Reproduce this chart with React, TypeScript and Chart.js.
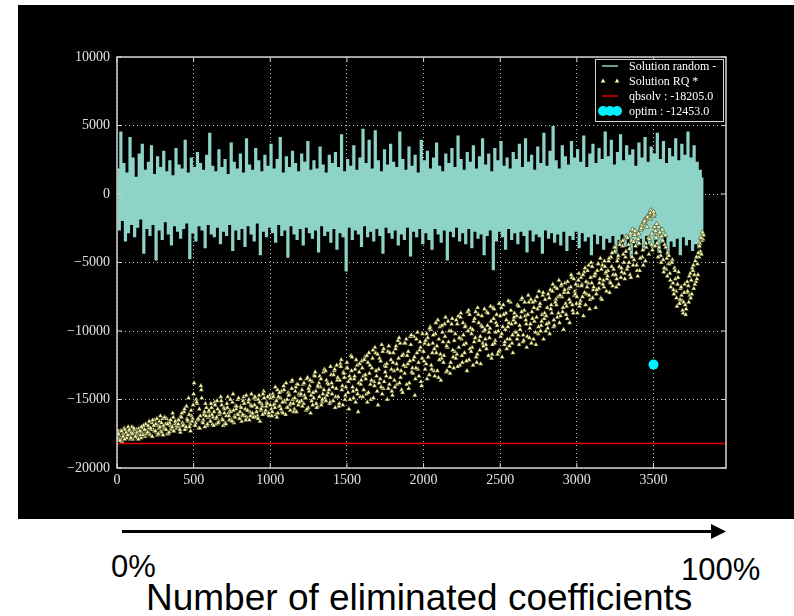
import React, { useEffect, useRef } from 'react';
import { Chart, registerables } from 'chart.js';

Chart.register(...registerables);

// x positions are the sample index; one kept sample every 10 iterations (RQ sets offset by 0, 3 and 7)
const SAMPLE_STEP = 10;

const RANDOM_VALUES = [
  1800, -2600, 4500, -1900, 2200, -3400, 1500, -2800, 4100, -2200, 2600, -3100, 1200, -2400, 2900, -1800, 3600, -4300, 1700, -2500,
  2300, -3000, 3500, -2200, 1400, -4800, 2700, -2600, 1900, -3300, 3100, -2000, 1600, -2900, 2400, -3700, 1300, -2300, 3300, -2700,
  2100, -3200, 1800, -2500, 3900, -2100, 1500, -4700, 2600, -2800, 1900, -3400, 3000, -2300, 2200, -2600, 1700, -3900, 2800, -2200,
  4400, -2900, 2000, -3100, 1600, -2400, 3200, -3600, 1900, -2700, 2500, -3000, 1400, -2200, 3700, -4100, 2300, -2600, 1800, -3300,
  2900, -2500, 1500, -3800, 4000, -2300, 2100, -2900, 1700, -3400, 3300, -2100, 2400, -4400, 1600, -2700, 2800, -3100, 2000, -2400,
  3600, -2800, 1800, -3500, 2500, -2200, 4100, -3000, 1500, -2600, 2700, -4600, 1900, -2300, 3100, -2900, 2200, -3300, 1600, -2500,
  2900, -3700, 2300, -2400, 3800, -2800, 1700, -3200, 2400, -2600, 1800, -4200, 3400, -2300, 2100, -3000, 1500, -2700, 2800, -3500,
  2200, -2500, 3000, -4000, 1900, -2800, 4300, -3100, 1600, -5600, 2500, -2400, 2000, -3300, 3500, -2600, 1700, -2900, 2600, -3800,
  4700, -2300, 2200, -3100, 3900, -2700, 1800, -3400, 4600, -2500, 2400, -3000, 1600, -4300, 3200, -2400, 2100, -2800, 3600, -3200,
  2300, -2600, 1900, -3700, 4500, -2900, 2500, -3300, 1700, -2400, 3400, -4500, 2000, -2700, 2800, -3100, 1500, -2500, 3900, -3600,
  2400, -2800, 3100, -3300, 1800, -4000, 2600, -2500, 3700, -2900, 2000, -3500, 1600, -2600, 2900, -4800, 2200, -2700, 3300, -3100,
  1900, -2400, 4200, -3400, 2500, -2800, 1700, -3600, 3000, -2500, 2300, -3900, 3500, -2700, 1800, -3200, 2700, -2900, 4000, -4400,
  2100, -3000, 2900, -2600, 1600, -5500, 3300, -3400, 2400, -2700, 3800, -3100, 2000, -4000, 2600, -2500, 1800, -3300, 3000, -2800,
  2500, -3600, 3600, -2700, 1900, -3000, 4000, -4200, 2300, -2600, 2800, -3400, 1700, -2900, 3400, -3100, 2200, -4300, 4400, -2600,
  2000, -3200, 3100, -2800, 4900, -3500, 2400, -2900, 1800, -3700, 3500, -2700, 2700, -4100, 2100, -3000, 3800, -3300, 2600, -2700,
  3200, -3900, 2300, -2800, 4200, -3400, 1900, -3100, 2900, -4400, 3600, -2900, 2200, -3600, 3300, -3000, 2500, -4000, 4500, -3200,
  2700, -3500, 3900, -3000, 2100, -4300, 3000, -3300, 4300, -2900, 2400, -3800, 3500, -3100, 2800, -4600, 3200, -3400, 2000, -3700,
  3700, -3200, 2600, -4100, 4100, -3000, 2300, -3600, 3400, -3900, 2900, -3300, 4400, -4200, 2500, -3500, 3800, -3100, 2200, -4500,
  3300, -3400, 2700, -3800, 4000, -3200, 2400, -4400, 3600, -3100, 2800, -3700, 4500, -3300, 2600, -4100, 3500, -3600, 2300, -3900,
  1700, -3000, 1200,
];

const RQ_VALUES_A = [
  -17800, -17500, -18000, -17300, -17700, -17900, -17400, -17600, -17200, -17800, -17500, -17100, -17700, -17400, -17900, -17300, -17000, -17600, -17200, -17500,
  -17400, -16600, -17100, -17700, -16900, -17300, -16400, -17500, -17000, -16700, -17600, -16300, -17200, -16800, -17400, -16500, -17000, -17300, -16600, -16900,
  -16800, -17200, -16300, -16900, -15700, -17000, -16500, -16100, -17300, -16600, -14600, -16900, -15200, -16400, -17100, -14300, -16700, -15900, -16200, -16800,
  -15800, -16600, -16100, -16900, -15400, -16300, -16700, -15900, -15100, -16500, -16000, -16800, -15600, -16200, -15000, -16600, -15800, -16300, -15500, -16100,
  -16400, -15600, -16100, -15300, -16500, -15800, -15000, -16200, -15500, -16300, -14800, -15900, -16400, -15200, -15700, -16100, -14900, -15800, -15300, -16000,
  -15400, -16200, -14800, -15600, -15100, -16000, -14500, -15700, -15200, -14300, -16100, -15000, -14700, -15800, -14200, -15300, -14900, -15900, -13900, -15200,
  -14600, -15500, -13800, -14900, -15700, -14200, -13600, -15100, -14500, -13300, -15300, -14000, -14800, -13500, -15000, -14300, -12900, -14700, -13900, -15200,
  -13800, -15100, -12800, -14200, -13400, -15300, -12600, -14000, -13100, -14700, -12300, -13700, -15000, -12900, -14400, -13300, -12100, -14600, -13000, -13900,
  -12700, -14300, -13200, -11800, -14500, -12500, -13600, -11400, -14000, -12900, -11700, -13800, -12200, -14600, -11300, -13000, -12400, -14200, -11600, -12800,
  -12300, -13600, -11100, -12800, -10500, -13400, -11800, -12500, -10900, -13900, -11500, -12200, -10300, -13100, -11900, -12700, -10100, -13300, -11200, -12000,
  -11500, -12800, -10200, -11900, -9800, -12500, -10900, -11300, -9400, -12900, -10600, -11700, -9600, -12300, -10400, -11100, -9300, -12600, -10000, -11400,
  -10700, -12000, -9500, -11200, -9000, -11800, -10300, -9700, -12200, -10000, -8800, -11500, -9900, -10800, -8600, -11700, -9400, -10400, -8900, -11100,
  -9900, -11300, -8700, -10500, -9300, -11000, -8400, -10100, -9600, -11500, -8900, -10200, -8100, -10800, -9200, -9700, -11100, -8500, -10300, -9000,
  -9400, -10600, -8200, -9900, -8600, -10300, -7900, -9500, -8800, -10500, -7700, -9100, -8300, -10100, -7500, -9700, -8000, -9300, -7200, -8700,
  -8900, -9800, -7600, -8400, -7100, -9200, -7900, -6900, -8700, -7400, -6600, -8300, -7000, -8800, -6400, -7700, -6800, -8100, -6200, -7300,
  -7500, -6300, -8000, -6700, -5900, -7200, -6400, -5600, -7400, -6100, -5300, -6800, -5800, -7000, -5100, -6200, -5500, -6600, -4900, -5700,
  -6000, -4700, -6500, -4300, -5500, -3900, -6200, -4500, -3700, -5400, -3400, -5800, -4200, -3200, -5000, -2900, -4600, -3500, -2700, -5200,
  -3300, -5600, -2500, -4100, -2000, -3600, -1700, -4400, -1400, -2900, -1300, -3800, -2200, -4600, -2800, -5000, -3400, -5400, -3900, -6000,
  -4500, -6300, -5000, -7000, -5600, -7600, -6100, -8000, -6800, -8500, -7200, -8800, -6400, -7900, -5800, -7300, -5200, -6600, -4600, -5900,
  -3800, -3200, -2800,
];

const RQ_VALUES_B = [
  -17600, -17900, -17300, -18100, -17500, -17200, -17800, -17000, -17600, -17400, -17900, -17200, -17500, -17800, -17100, -17600, -17400, -16900, -17700, -17300,
  -16900, -17500, -17200, -16500, -17300, -16800, -17600, -17100, -16200, -17400, -16900, -17200, -16400, -17500, -16700, -17100, -16000, -17300, -16800, -17000,
  -16500, -17400, -16000, -16800, -17200, -15500, -16600, -17000, -15800, -16400, -13800, -16700, -15300, -17100, -16200, -14900, -16500, -17000, -15600, -16300,
  -16200, -15300, -16800, -15900, -16400, -15100, -16600, -16000, -15400, -16900, -15700, -16200, -14800, -16500, -15900, -15200, -16700, -15500, -16100, -14900,
  -15900, -16600, -15100, -16200, -14700, -15800, -16500, -15400, -16000, -14900, -16300, -15600, -15000, -16600, -15300, -14600, -16000, -15500, -14800, -16200,
  -14900, -15900, -15400, -14100, -16300, -14800, -15500, -14400, -16000, -15100, -13800, -15600, -14600, -15300, -13600, -15900, -14400, -13900, -15400, -14700,
  -15100, -13900, -14700, -15800, -13400, -14400, -16000, -13700, -14900, -13000, -15600, -14100, -13300, -15400, -14600, -12800, -15100, -13800, -14300, -12600,
  -14600, -13200, -15600, -12500, -14800, -13600, -12100, -15400, -13400, -14100, -12700, -15700, -13500, -11900, -14900, -12800, -14300, -15900, -12400, -13600,
  -14800, -12100, -13500, -15200, -11600, -13900, -12700, -14900, -11200, -13300, -15400, -12000, -14100, -11500, -13700, -12600, -15000, -11100, -13400, -14400,
  -11600, -14100, -12400, -10700, -13800, -12900, -14500, -10900, -12600, -11800, -14200, -10400, -13000, -12100, -14700, -10600, -12800, -11400, -13700, -10200,
  -12200, -10700, -13500, -11000, -9700, -12800, -10300, -13300, -11600, -9200, -12100, -13600, -10100, -11800, -9000, -12900, -10800, -13100, -9500, -11900,
  -11500, -9200, -12600, -10500, -8700, -12300, -11000, -9600, -12900, -8500, -11300, -10200, -12500, -9100, -11900, -8300, -10700, -12400, -9700, -10000,
  -10600, -8600, -11800, -9800, -12000, -8300, -10900, -9400, -11700, -8000, -10400, -11900, -8800, -9900, -11300, -7800, -10600, -9500, -11600, -8700,
  -10100, -8100, -11000, -9000, -7600, -10700, -8900, -11200, -7400, -9800, -10900, -7900, -9300, -11000, -8400, -7100, -10000, -8800, -10600, -7700,
  -9500, -7300, -10200, -8100, -6600, -9600, -7700, -9000, -6300, -8900, -7500, -9900, -6500, -8200, -7200, -9400, -5900, -8500, -7400, -6600,
  -8700, -5800, -7800, -6600, -8900, -5400, -7300, -6500, -8400, -5000, -7600, -6000, -8300, -5600, -6900, -4700, -7700, -6300, -5300, -7100,
  -5600, -7200, -4600, -6700, -3900, -5900, -4900, -6600, -3500, -5700, -4400, -6200, -3100, -5300, -4000, -6100, -2600, -4800, -3800, -5600,
  -2900, -4700, -2300, -5200, -1900, -3900, -1600, -3300, -1200, -4100, -1500, -2700, -3600, -2400, -4200, -3100, -4800, -3700, -5500, -4300,
  -5100, -6800, -4800, -7300, -6200, -8200, -5700, -7700, -7400, -8700, -6600, -8400, -7100, -6000, -7600, -5400, -6900, -4900, -6200, -4300,
  -3600, -4400, -3300,
];

const RQ_VALUES_C = [
  -17300, -17700, -17900, -17500, -17100, -17800, -17600, -17300, -17900, -17000, -17400, -17700, -17200, -17600, -17400, -17800, -17100, -17500, -16800, -17400,
  -17100, -17600, -16700, -17200, -16500, -17400, -16900, -16600, -17300, -16400, -17100, -16800, -17500, -16600, -16900, -17200, -16300, -16800, -17100, -16500,
  -17000, -16200, -16700, -15900, -17100, -16400, -14900, -16800, -16200, -15400, -16900, -15000, -16500, -15700, -14000, -16600, -16100, -15300, -16900, -15900,
  -16600, -15600, -16300, -15200, -16800, -15700, -16100, -14800, -16400, -15600, -16700, -15300, -16000, -15800, -16500, -14600, -16200, -15700, -15000, -16400,
  -15500, -16200, -14800, -15700, -16300, -15200, -15900, -14600, -16100, -15400, -15000, -16200, -14700, -15800, -15500, -14400, -15900, -15200, -16100, -14700,
  -15700, -14600, -15300, -16100, -14300, -15500, -14900, -15900, -14000, -15200, -15600, -14500, -15400, -13700, -15000, -15700, -14100, -15100, -14600, -13500,
  -14300, -15300, -14900, -13500, -15600, -14000, -14700, -15400, -13200, -14400, -15500, -13800, -14100, -15200, -13000, -14900, -13600, -14500, -15300, -13200,
  -14100, -12900, -14800, -13600, -15500, -12400, -14300, -13000, -15000, -12700, -14500, -13300, -11800, -14100, -13500, -15200, -12500, -13800, -14800, -12200,
  -13300, -11900, -14600, -12300, -13100, -15000, -12000, -13700, -11600, -14400, -12800, -13500, -11000, -14200, -12500, -13300, -11500, -13900, -12100, -14700,
  -12900, -11300, -13900, -12000, -10900, -14300, -11700, -13100, -10600, -12400, -13800, -11000, -12700, -10400, -13500, -11600, -12300, -10800, -14000, -11500,
  -10900, -12400, -10500, -13200, -9900, -11600, -12900, -10200, -11100, -13400, -9700, -12000, -10800, -9500, -13000, -11200, -10000, -12300, -9100, -12700,
  -10200, -11700, -8900, -12500, -10600, -9400, -11600, -10900, -8600, -12100, -9800, -11200, -9300, -10500, -12300, -8800, -11400, -9600, -10900, -8400,
  -11000, -9600, -10100, -8200, -11700, -9100, -10700, -8800, -10000, -11400, -8300, -9700, -11000, -8700, -10600, -9400, -7900, -10900, -9200, -10100,
  -8900, -10300, -9600, -7700, -10800, -8500, -9200, -10400, -7900, -9500, -8600, -10600, -7800, -9000, -10200, -8200, -9600, -7400, -9100, -10000,
  -8300, -9400, -7000, -8700, -9700, -6800, -8100, -7500, -9400, -6700, -8600, -7200, -8000, -9100, -6900, -7900, -6100, -8700, -7100, -8000,
  -6700, -8200, -6100, -7500, -5700, -8100, -6800, -5200, -7700, -6500, -7000, -5900, -7300, -5100, -6500, -7600, -5200, -6800, -5800, -6200,
  -4900, -6400, -5300, -5900, -4200, -6800, -4700, -5300, -6100, -3800, -5000, -4600, -5500, -3700, -5900, -3400, -5200, -3000, -4300, -6000,
  -3600, -2600, -4600, -2100, -4900, -2400, -3200, -1800, -3700, -1600, -2400, -3200, -2900, -3900, -4500, -2600, -5700, -3000, -4700, -5100,
  -5800, -4900, -6500, -5400, -7100, -6600, -8000, -6900, -7800, -7900, -8100, -7200, -6700, -7400, -6300, -5600, -5900, -6400, -5100, -4600,
  -4200, -3400, -3000,
];

const QBSOLV_VALUE = -18205;
const OPTIM_X = 3500;
const OPTIM_VALUE = -12453;
const X_MIN = 0;
const X_MAX = 3973;
const Y_MIN = -20000;
const Y_MAX = 10000;
const X_TICKS = [0, 500, 1000, 1500, 2000, 2500, 3000, 3500];
const Y_TICKS = [-20000, -15000, -10000, -5000, 0, 5000, 10000];

const LEGEND_LABELS = ['Solution random -', 'Solution RQ *', 'qbsolv : -18205.0', 'optim : -12453.0'];

const C_RANDOM = '#8dd3c7';
const C_RQ = '#feffb3';
const C_QB = '#e00000';
const C_OPTIM = '#00f0ff';
const FRAME = '#d2d2d2';

const drawTri = (ctx: CanvasRenderingContext2D, x: number, y: number, r: number) => {
  ctx.beginPath();
  ctx.moveTo(x, y - r);
  ctx.lineTo(x + r * 0.9, y + r * 0.6);
  ctx.lineTo(x - r * 0.9, y + r * 0.6);
  ctx.closePath();
  ctx.fill();
};

const framePlugin = {
  id: 'frameAndLegend',
  afterDraw(chart: any) {
    const { ctx, chartArea: a, scales } = chart;
    ctx.save();
    ctx.strokeStyle = FRAME;
    ctx.lineWidth = 1.5;
    ctx.strokeRect(a.left, a.top, a.right - a.left, a.bottom - a.top);
    ctx.lineWidth = 1;
    const t = 5;
    ctx.beginPath();
    scales.x.ticks.forEach((tk: any) => {
      const px = scales.x.getPixelForValue(tk.value);
      ctx.moveTo(px, a.bottom);
      ctx.lineTo(px, a.bottom - t);
      ctx.moveTo(px, a.top);
      ctx.lineTo(px, a.top + t);
    });
    scales.y.ticks.forEach((tk: any) => {
      const py = scales.y.getPixelForValue(tk.value);
      ctx.moveTo(a.left, py);
      ctx.lineTo(a.left + t, py);
      ctx.moveTo(a.right, py);
      ctx.lineTo(a.right - t, py);
    });
    ctx.stroke();

    // legend
    const bw = 128;
    const bh = 62;
    const bx = a.right - 131;
    const by = a.top + 2;
    ctx.fillStyle = '#000';
    ctx.fillRect(bx, by, bw, bh);
    ctx.strokeStyle = FRAME;
    ctx.lineWidth = 1;
    ctx.strokeRect(bx + 0.5, by + 0.5, bw, bh);
    const rows = [7, 22, 37, 52];
    const h0 = bx + 7;
    const h1 = bx + 23;
    ctx.strokeStyle = C_RANDOM;
    ctx.lineWidth = 1.5;
    ctx.beginPath();
    ctx.moveTo(h0, by + rows[0]);
    ctx.lineTo(h1, by + rows[0]);
    ctx.stroke();
    ctx.fillStyle = C_RQ;
    drawTri(ctx, h0 + 1, by + rows[1], 2.5);
    drawTri(ctx, h1 - 1, by + rows[1], 2.5);
    ctx.strokeStyle = C_QB;
    ctx.lineWidth = 1.5;
    ctx.beginPath();
    ctx.moveTo(h0, by + rows[2]);
    ctx.lineTo(h1, by + rows[2]);
    ctx.stroke();
    ctx.fillStyle = C_OPTIM;
    [h0 + 1, h0 + 8, h0 + 15].forEach((cx) => {
      ctx.beginPath();
      ctx.arc(cx, by + rows[3], 5, 0, Math.PI * 2);
      ctx.fill();
    });
    ctx.fillStyle = '#ffffff';
    ctx.font = '12px "Liberation Serif"';
    ctx.textBaseline = 'middle';
    ctx.textAlign = 'left';
    LEGEND_LABELS.forEach((lab, i) => {
      ctx.fillText(lab, bx + 34, by + rows[i] + 1);
    });
    ctx.restore();
  },
};

const fmtY = (v: number) => (v < 0 ? '\u2212' + Math.abs(v) : String(v));

const rqDataset = (values: number[], offset: number) => ({
  label: LEGEND_LABELS[1],
  data: values.map((y, i) => ({ x: i * SAMPLE_STEP + offset, y })),
  showLine: false,
  pointStyle: 'triangle',
  pointRadius: 2.8,
  pointBackgroundColor: C_RQ,
  pointBorderColor: 'rgba(40,40,15,0.9)',
  pointBorderWidth: 0.6,
  order: 3,
});

function ChartBox() {
  const ref = useRef<HTMLCanvasElement | null>(null);
  useEffect(() => {
    if (!ref.current) return;
    const randomData = RANDOM_VALUES.map((y, i) => ({ x: i * SAMPLE_STEP, y }));
    const chart = new Chart(ref.current, {
      type: 'line',
      data: {
        datasets: [
          {
            label: LEGEND_LABELS[0],
            data: randomData,
            borderColor: C_RANDOM,
            borderWidth: 1.7,
            pointRadius: 0,
            stepped: true,
            order: 5,
          },
          rqDataset(RQ_VALUES_A, 0),
          rqDataset(RQ_VALUES_B, 3),
          rqDataset(RQ_VALUES_C, 7),
          {
            label: LEGEND_LABELS[2],
            data: [
              { x: X_MIN, y: QBSOLV_VALUE },
              { x: X_MAX, y: QBSOLV_VALUE },
            ],
            borderColor: C_QB,
            borderWidth: 1.5,
            pointRadius: 0,
            order: 2,
          },
          {
            label: LEGEND_LABELS[3],
            data: [{ x: OPTIM_X, y: OPTIM_VALUE }],
            showLine: false,
            pointRadius: 5,
            pointBackgroundColor: C_OPTIM,
            pointBorderColor: C_OPTIM,
            pointBorderWidth: 0,
            order: 1,
          },
        ],
      },
      options: {
        responsive: false,
        animation: false,
        events: [],
        layout: { padding: { top: 52, right: 68, left: 0, bottom: 0 } },
        plugins: { legend: { display: false }, tooltip: { enabled: false } },
        scales: {
          x: {
            type: 'linear',
            min: X_MIN,
            max: X_MAX,
            afterBuildTicks: (s: any) => {
              s.ticks = X_TICKS.map((v) => ({ value: v }));
            },
            afterFit: (s: any) => {
              s.height = 51;
            },
            ticks: {
              color: '#e2e2e2',
              font: { family: 'Liberation Serif', size: 14 },
              padding: 4,
              maxRotation: 0,
              autoSkip: false,
              callback: (v: any) => String(v),
            },
            grid: { color: 'rgba(255,255,255,0.75)', lineWidth: 1, drawTicks: false },
            border: { display: false, dash: [1, 3] },
          },
          y: {
            type: 'linear',
            min: Y_MIN,
            max: Y_MAX,
            afterBuildTicks: (s: any) => {
              s.ticks = Y_TICKS.map((v) => ({ value: v }));
            },
            afterFit: (s: any) => {
              s.width = 99;
            },
            ticks: {
              color: '#e2e2e2',
              font: { family: 'Liberation Serif', size: 14 },
              padding: 7,
              autoSkip: false,
              callback: (v: any) => fmtY(v),
            },
            grid: { color: 'rgba(255,255,255,0.75)', lineWidth: 1, drawTicks: false },
            border: { display: false, dash: [1, 3] },
          },
        },
      },
      plugins: [framePlugin],
    } as any);
    return () => chart.destroy();
  }, []);
  return <canvas ref={ref} width={776} height={514} style={{ display: 'block' }} />;
}

export default function App() {
  return (
    <div style={{ position: 'fixed', left: 0, top: 0, width: 794, height: 616, background: '#fff', overflow: 'hidden' }}>
      <svg width={794} height={616} style={{ position: 'absolute', left: 0, top: 0 }}>
        <line x1={122} y1={531.5} x2={713} y2={531.5} stroke="#000" strokeWidth={3} />
        <polygon points="711,524 726,531.5 711,539" fill="#000" />
        <text x={111} y={577} fontFamily="'Liberation Sans', Arial, sans-serif" fontSize={31} fill="#000">0%</text>
        <text x={681} y={580} fontFamily="'Liberation Sans', Arial, sans-serif" fontSize={31} fill="#000">100%</text>
        <text x={146} y={610} fontFamily="'Liberation Sans', Arial, sans-serif" fontSize={37} fill="#000">Number of eliminated coefficients</text>
      </svg>
      <div style={{ position: 'absolute', left: 18, top: 5, width: 776, height: 514, background: '#000' }}>
        <ChartBox />
      </div>
    </div>
  );
}
